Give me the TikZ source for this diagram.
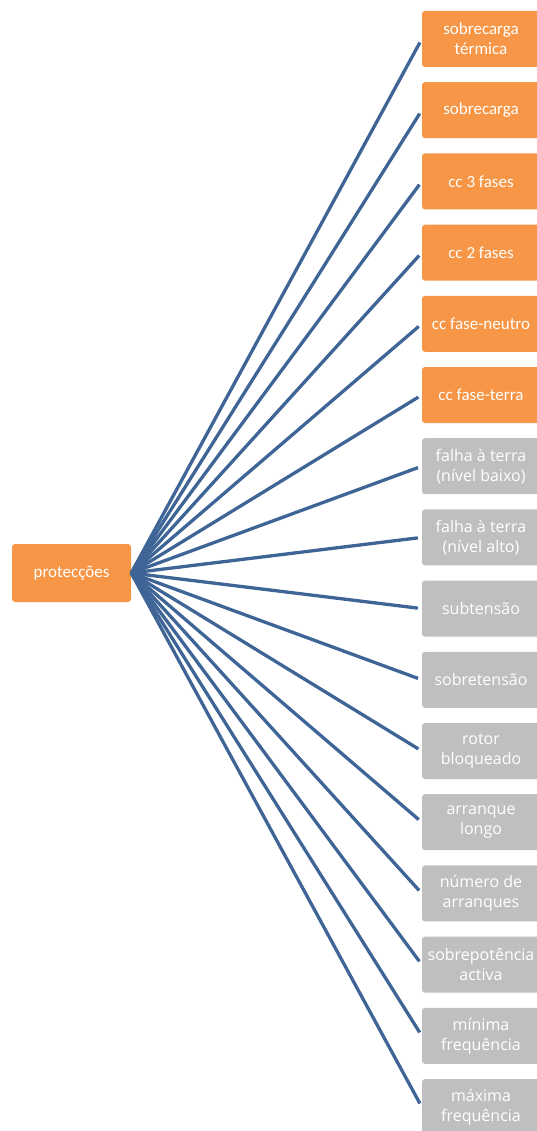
\documentclass[tikz,border=0pt]{standalone}
\usepackage{fontspec}
\setmainfont{Carlito}
\newfontfamily\greyfont{Open Sans}
\usepackage{tikz}
\usetikzlibrary{positioning}
\definecolor{boxorange}{HTML}{F79646}
\definecolor{boxgrey}{HTML}{BFBFBF}
\definecolor{linkblue}{HTML}{3F6597}

\begin{document}
\begin{tikzpicture}[x=1pt,y=-1pt]
\tikzstyle{hot}=[rectangle,rounded corners=3pt,fill=boxorange,text=white,minimum width=118pt,minimum height=56pt,inner sep=0pt,align=center,font=\fontsize{17}{20}\selectfont]
\tikzstyle{cold}=[hot,fill=boxgrey,font=\greyfont\fontsize{16}{20}\selectfont]
\tikzstyle{link}=[-,line width=3.3pt,linkblue,shorten >=4pt]
    \useasboundingbox (0,0) rectangle (537,1131);
    \node[hot,minimum width=119pt,minimum height=58pt] (root) at (71.5,573) {protecções};
    \node[hot] (1) at (481,39) {sobrecarga\\térmica};
    \node[hot] (2) at (481,110.2) {sobrecarga};
    \node[hot] (3) at (481,181.4) {cc 3 fases};
    \node[hot] (4) at (481,252.6) {cc 2 fases};
    \node[hot] (5) at (481,323.8) {cc fase-neutro};
    \node[hot] (6) at (481,395) {cc fase-terra};
    \node[cold] (7) at (481,466.2) {falha à terra\\(nível baixo)};
    \node[cold] (8) at (481,537.4) {falha à terra\\(nível alto)};
    \node[cold] (9) at (481,608.6) {subtensão};
    \node[cold] (10) at (481,679.8) {sobretensão};
    \node[cold] (11) at (481,751) {rotor\\bloqueado};
    \node[cold] (12) at (481,822.2) {arranque\\longo};
    \node[cold] (13) at (481,893.4) {número de\\arranques};
    \node[cold] (14) at (481,964.6) {sobrepotência\\activa};
    \node[cold] (15) at (481,1035.8) {mínima\\frequência};
    \node[cold] (16) at (481,1107) {máxima\\frequência};
    \draw[link] (root.east) to (1.west);
    \draw[link] (root.east) to (2.west);
    \draw[link] (root.east) to (3.west);
    \draw[link] (root.east) to (4.west);
    \draw[link] (root.east) to (5.west);
    \draw[link] (root.east) to (6.west);
    \draw[link] (root.east) to (7.west);
    \draw[link] (root.east) to (8.west);
    \draw[link] (root.east) to (9.west);
    \draw[link] (root.east) to (10.west);
    \draw[link] (root.east) to (11.west);
    \draw[link] (root.east) to (12.west);
    \draw[link] (root.east) to (13.west);
    \draw[link] (root.east) to (14.west);
    \draw[link] (root.east) to (15.west);
    \draw[link] (root.east) to (16.west);
  \end{tikzpicture}
\end{document}
